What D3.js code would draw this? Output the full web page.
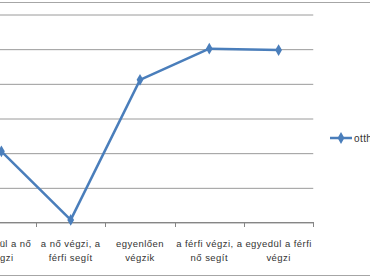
<!DOCTYPE html>
<html>
<head>
<meta charset="utf-8">
<script src="https://cdn.jsdelivr.net/npm/d3@7"></script>
<style>
  body { margin: 0; background: #fff; }
  svg { display: block; }
  .grid line { stroke: #9a9a9a; stroke-width: 1; }
  .grid .domain { display: none; }
  .xaxis text { font-family: "Liberation Sans", Arial, sans-serif; font-size: 9.5px; fill: #333; letter-spacing: 0.45px; }
</style>
</head>
<body>
<div class="drawingboard"></div>
<script>
// categories and values (y in percent)
var categories = ["egyedül a nő végzi", "a nő végzi, a férfi segít", "egyenlően végzik", "a férfi végzi, a nő segít", "egyedül a férfi végzi"];
var labelLines = [["egyedül a nő", "végzi"], ["a nő végzi, a", "férfi segít"], ["egyenlően", "végzik"], ["a férfi végzi, a", "nő segít"], ["egyedül a férfi", "végzi"]];
var values = [10.2, 0.3, 20.5, 25.0, 24.8];
var yTicks = [0, 5, 10, 15, 20, 25, 30];
var seriesName = "otthon";

var width = 370, height = 278;

var svg = d3.select(".drawingboard")
    .append("svg")
    .attr("width", width)
    .attr("height", height);

// chart border (top and bottom visible)
svg.append("line").attr("x1", 0).attr("x2", width).attr("y1", 2.5).attr("y2", 2.5)
    .style("stroke", "#a6a6a6");
svg.append("line").attr("x1", 0).attr("x2", width).attr("y1", 275.5).attr("y2", 275.5)
    .style("stroke", "#a6a6a6");

// plot area is partly cut off on the left
var x = d3.scaleBand().domain(categories).range([-33.25, 313.25]).padding(0);
var y = d3.scaleLinear().domain([0, 30]).range([222, 14]);

svg.append("g")
    .attr("class", "grid")
    .attr("transform", "translate(-33.25,0)")
    .call(d3.axisLeft(y).tickValues(yTicks).tickSize(-346.5).tickFormat(""))
    .selectAll("line").attr("transform", "translate(0,0.5)");

// x axis line with ticks at category boundaries
var xa = svg.append("g").attr("class", "xaxis");
xa.append("line")
    .attr("x1", -33.25).attr("x2", 313.25)
    .attr("y1", 222.5).attr("y2", 222.5)
    .style("stroke", "#868686");
xa.selectAll(".tk")
    .data(categories)
    .enter().append("line")
    .attr("class", "tk")
    .attr("x1", function (d) { return Math.round(x(d) + x.bandwidth()) + 0.5; })
    .attr("x2", function (d) { return Math.round(x(d) + x.bandwidth()) + 0.5; })
    .attr("y1", 222).attr("y2", 227)
    .style("stroke", "#868686");

xa.selectAll(".lbl")
    .data(categories)
    .enter().append("text")
    .attr("class", "lbl")
    .attr("text-anchor", "middle")
    .attr("x", function (d) { return x(d) + x.bandwidth() / 2; })
    .attr("y", 247)
    .each(function (d, i) {
        var t = d3.select(this);
        labelLines[i].forEach(function (s, j) {
            t.append("tspan")
                .attr("x", x(d) + x.bandwidth() / 2)
                .attr("dy", j === 0 ? 0 : 14)
                .text(s);
        });
    });

// series line
var line = d3.line()
    .x(function (d, i) { return x(categories[i]) + x.bandwidth() / 2; })
    .y(function (d) { return y(d); });

svg.append("path")
    .datum(values)
    .attr("d", line)
    .style("fill", "none")
    .style("stroke", "#4a7ebb")
    .style("stroke-width", 2.5)
    .style("stroke-linejoin", "round");

var diamond = d3.symbol().type(d3.symbolDiamond).size(40);
svg.selectAll(".pt")
    .data(values)
    .enter().append("path")
    .attr("class", "pt")
    .attr("d", diamond)
    .attr("transform", function (d, i) {
        return "translate(" + (x(categories[i]) + x.bandwidth() / 2) + "," + y(d) + ")";
    })
    .style("fill", "#4a7ebb");

// legend (cut off at the right edge, as in the picture)
var lg = svg.append("g").attr("transform", "translate(330,138)");
lg.append("line").attr("x1", 0).attr("x2", 22).attr("y1", 0).attr("y2", 0)
    .style("stroke", "#4a7ebb").style("stroke-width", 2.5);
lg.append("path").attr("d", diamond).attr("transform", "translate(11,0)").style("fill", "#4a7ebb");
lg.append("text")
    .attr("x", 24).attr("y", 3.5)
    .style("font-family", "'Liberation Sans', Arial, sans-serif")
    .style("font-size", "10px")
    .style("letter-spacing", "0.4px")
    .style("fill", "#333")
    .text(seriesName);
</script>
</body>
</html>
